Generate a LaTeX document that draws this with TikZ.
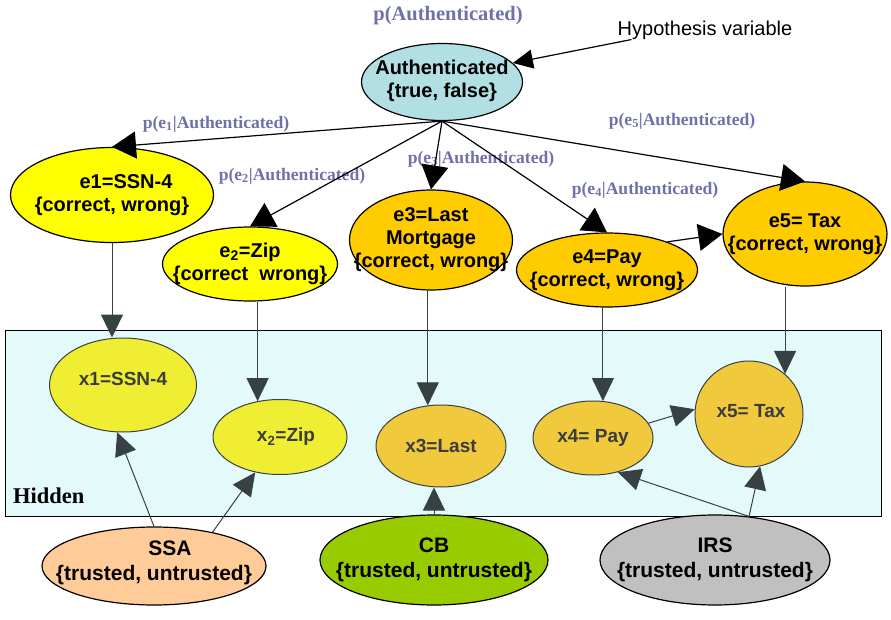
\documentclass[tikz,border=0pt]{standalone}
\usepackage{fontspec}
\setmainfont{Liberation Sans}
\newfontfamily\tnr{Liberation Serif}
\usetikzlibrary{arrows.meta,shapes.geometric,calc}
\definecolor{authblue}{RGB}{178,223,227}
\definecolor{eyel}{RGB}{255,255,0}
\definecolor{egold}{RGB}{255,204,0}
\definecolor{xyel}{RGB}{240,238,50}
\definecolor{xgold}{RGB}{240,202,60}
\definecolor{hidbg}{RGB}{228,250,250}
\definecolor{peach}{RGB}{255,204,153}
\definecolor{cbgreen}{RGB}{153,204,0}
\definecolor{irsgray}{RGB}{192,192,192}
\definecolor{labcol}{RGB}{112,112,170}
\definecolor{tipgray}{RGB}{55,65,65}
\definecolor{xtext}{RGB}{60,60,60}
\tikzset{
  ev/.style={ellipse, draw=black, line width=1.2pt, inner sep=0pt},
  hv/.style={ellipse, draw=tipgray, line width=1pt, inner sep=0pt},
  et/.style={align=center, inner sep=0pt, font=\bfseries\fontsize{20}{23}\selectfont},
  ht/.style={align=center, inner sep=0pt, text=xtext, font=\bfseries\fontsize{19}{22}\selectfont},
  st/.style={align=center, inner sep=0pt, font=\bfseries\fontsize{21}{25}\selectfont},
  plab/.style={text=labcol, inner sep=0pt, font=\tnr\bfseries\fontsize{17.6}{20}\selectfont},
  arr/.style={line width=1.2pt, -{Triangle[length=24pt,width=27pt]}},
  harr/.style={line width=1pt, draw=tipgray, -{Triangle[length=23pt,width=22pt,color=tipgray]}},
}
\begin{document}
\begin{tikzpicture}[x=1pt,y=-1pt]
\useasboundingbox (0,0) rectangle (891,620);
% hidden box
\node[draw=black, line width=1.2pt, fill=hidbg, minimum width=876pt, minimum height=186pt,
  inner sep=0pt, anchor=north west] (box) at (5,330) {};
\node[anchor=west, inner sep=0pt, font=\tnr\bfseries\fontsize{22.5}{26}\selectfont] (hid) at (13,496) {Hidden};

% hypothesis
\node[ev, fill=authblue, minimum width=161pt, minimum height=77pt,
  label={[et,yshift=1pt]center:Authenticated\\\{true, false\}}] (auth) at (442,82) {};
\node[plab, font=\tnr\bfseries\fontsize{20.5}{23}\selectfont] (pauth) at (448,16) {p(Authenticated)};
\node[inner sep=0pt, font=\fontsize{20}{23}\selectfont] (hyp) at (705,30) {Hypothesis variable};
\coordinate (hypst) at ($(hyp.south west)+(14,0)$);

% evidence
\node[ev, fill=eyel, minimum width=203pt, minimum height=95pt,
  label={[et]center:\hspace*{28pt}e1=SSN-4\\\{correct, wrong\}}] (e1) at (112,195) {};
\node[ev, fill=eyel, minimum width=175pt, minimum height=74pt,
  label={[et]center:e\textsubscript{2}=Zip\\\{correct\ \ wrong\}}] (e2) at (250,264) {};
\node[ev, fill=egold, minimum width=163pt, minimum height=100pt,
  label={[et]center:e3=Last\\Mortgage\\\{correct, wrong\}}] (e3) at (431,240) {};
\node[ev, fill=egold, minimum width=181pt, minimum height=74pt,
  label={[et]center:e4=Pay\\\{correct, wrong\}}] (e4) at (607,270) {};
\node[ev, fill=egold, minimum width=164pt, minimum height=104pt,
  label={[et]center:e5= Tax\\\{correct, wrong\}}] (e5) at (805,234) {};

% hidden nodes
\node[hv, fill=xyel, minimum width=147pt, minimum height=94pt,
  label={[ht,yshift=6pt]center:x1=SSN-4}] (x1) at (123,385) {};
\node[hv, fill=xyel, minimum width=134pt, minimum height=75pt,
  label={[ht,xshift=6pt]center:x\textsubscript{2}=Zip}] (x2) at (280,437) {};
\node[hv, fill=xgold, minimum width=130pt, minimum height=82pt,
  label={[ht]center:x3=Last}] (x3) at (441,446) {};
\node[hv, fill=xgold, minimum width=120pt, minimum height=74pt,
  label={[ht]center:x4= Pay}] (x4) at (593,438) {};
\node[hv, fill=xgold, minimum width=108pt, minimum height=106pt,
  label={[ht,xshift=2pt,yshift=3pt]center:x5= Tax}] (x5) at (749,414) {};

% sources
\node[ev, fill=peach, minimum width=224pt, minimum height=78pt,
  label={[st,yshift=3pt]center:\hspace*{32pt}SSA\\\{trusted, untrusted\}}] (ssa) at (154,566) {};
\node[ev, fill=cbgreen, minimum width=228pt, minimum height=90pt,
  label={[st]center:CB\\\{trusted, untrusted\}}] (cb) at (434,560) {};
\node[ev, fill=irsgray, minimum width=230pt, minimum height=90pt,
  label={[st]center:IRS\\\{trusted, untrusted\}}] (irs) at (715,560) {};

% labels
\node[plab] (l1) at (216,124) {p(e\textsubscript{1}|Authenticated)};
\node[plab] (l2) at (292,176) {p(e\textsubscript{2}|Authenticated)};
\node[plab] (l3) at (481,159) {p(e\textsubscript{3}|Authenticated)};
\node[plab] (l4) at (645,190) {p(e\textsubscript{4}|Authenticated)};
\node[plab] (l5) at (682,121) {p(e\textsubscript{5}|Authenticated)};

% arrows from hypothesis
\draw[line width=1.2pt, -{Triangle[length=20pt,width=19pt]}] (hypst) -- (auth.15);
\draw[arr] (auth.south) -- (e1.north);
\draw[arr] (auth.south) -- (e2.north);
\draw[arr] (auth.south) -- (e3.north);
\draw[arr] (auth.south) -- (e4.north);
\draw[arr] (auth.south) -- (e5.north);
\draw[arr] (e4.25) -- (e5.west);

% evidence to hidden
\draw[harr] (e1.south) -- (e1.south |- x1.north);
\draw[harr] (e2.south -| x2.122) -- (x2.122);
\draw[harr] (e3.south -| x3.108) -- (x3.108);
\draw[harr] (e4.south -| x4.75) -- (x4.75);
\draw[harr] (e5.south -| x5.48) -- (x5.48);
\draw[harr] (x4.15) -- (x5.175);

% sources to hidden
\draw[harr] (ssa.north) -- (x1.-97);
\draw[harr] (ssa.30) -- (x2.-125);
\draw[harr] (cb.north) -- (cb.north |- x3.south);
\draw[harr] (irs.52) -- (x4.-54);
\draw[harr] (irs.52) -- (x5.-78);
\end{tikzpicture}
\end{document}
